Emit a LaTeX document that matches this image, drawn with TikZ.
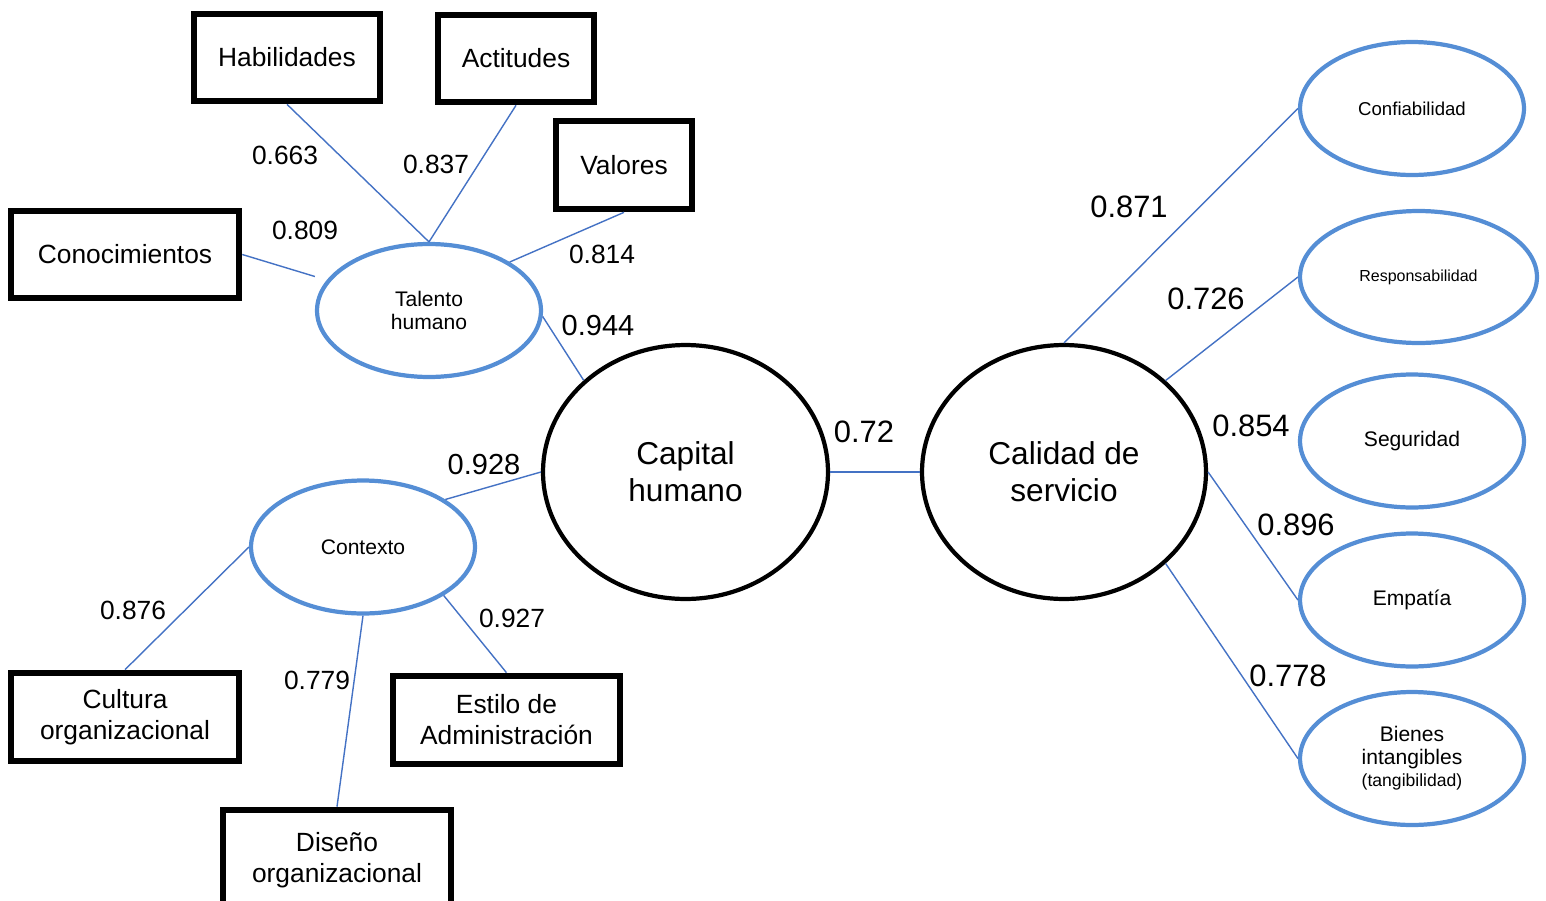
\documentclass[tikz,border=0pt]{standalone}
\usepackage{fontspec}
\setmainfont{Liberation Sans}
\usetikzlibrary{shapes.geometric}
\definecolor{ellblue}{RGB}{85,142,213}
\definecolor{lineblue}{RGB}{68,114,196}
\tikzset{
  box/.style={draw=black, line width=3.8pt, rectangle, inner sep=0pt, align=center,
    font=\fontsize{15pt}{17.6pt}\selectfont},
  sub/.style={draw=ellblue, line width=2.4pt, ellipse, inner sep=0pt, align=center,
    minimum width=4.48cm, minimum height=2.66cm, font=\fontsize{12pt}{13pt}\selectfont},
  big/.style={draw=black, line width=2.4pt, ellipse, inner sep=0pt, align=center,
    minimum width=5.7cm, minimum height=5.08cm, font=\fontsize{18pt}{21pt}\selectfont},
  conn/.style={draw=lineblue, line width=0.8pt},
  lab/.style={inner sep=0pt, font=\fontsize{15pt}{17pt}\selectfont},
  labm/.style={inner sep=0pt, font=\fontsize{16.5pt}{18pt}\selectfont},
  labb/.style={inner sep=0pt, font=\fontsize{17.6pt}{19pt}\selectfont},
}
\begin{document}
\begin{tikzpicture}[x=0.02cm, y=-0.02cm]
\useasboundingbox (0,0) rectangle (1546,900);
% boxes
\node[box, minimum width=3.72cm, minimum height=1.74cm] (hab) at (287,57.5) {Habilidades};
\node[box, minimum width=3.12cm, minimum height=1.74cm] (act) at (516,58.5) {Actitudes};
\node[box, minimum width=2.72cm, minimum height=1.76cm] (val) at (624,165) {Valores};
\node[box, minimum width=4.56cm, minimum height=1.74cm] (con) at (125,254.5) {Conocimientos};
\node[box, minimum width=4.56cm, minimum height=1.76cm] (cul) at (125,717) {Cultura\\organizacional};
\node[box, minimum width=4.54cm, minimum height=1.76cm] (est) at (506.5,720) {Estilo de\\Administración};
\node[box, minimum width=4.56cm, minimum height=2.0cm] (dis) at (337,860) {Diseño\\organizacional};
% latent sub-constructs
\node[sub] (tal) at (429,310.5) {Talento\\humano};
\node[sub] (ctx) at (363,547) {Contexto};
\node[sub, font=\fontsize{10.6pt}{12pt}\selectfont] (conf) at (1412,108.5) {Confiabilidad};
\node[sub, minimum width=4.74cm, minimum height=2.64cm, font=\fontsize{9.1pt}{11pt}\selectfont] (resp) at (1418.5,277) {Responsabilidad};
\node[sub] (seg) at (1412,441) {Seguridad};
\node[sub] (emp) at (1412,600) {Empatía};
\node[sub, font=\fontsize{12pt}{12.8pt}\selectfont] (bien) at (1412,758.5) {Bienes\\intangibles\\{\fontsize{10pt}{12pt}\selectfont(tangibilidad)}};
% main constructs
\node[big] (cap) at (685.5,472) {Capital\\humano};
\node[big, minimum width=5.68cm] (cal) at (1064,472) {Calidad de\\servicio};
% connectors
\draw[conn] (hab.south) -- (tal.north);
\draw[conn] (act.south) -- (tal.north);
\draw[conn] (val.south) -- (tal.31);
\draw[conn] (con.east) -- ([yshift=0.68cm]tal.west);
\draw[conn] (tal.357) -- (cap.138);
\draw[conn] (cap.west) -- (ctx.30);
\draw[conn] (ctx.west) -- (cul.north);
\draw[conn] (ctx.south) -- (dis.north);
\draw[conn] (ctx.-31) -- (est.north);
\draw[conn] (cap.east) -- (cal.west);
\draw[conn] (cal.north) -- (conf.west);
\draw[conn] (cal.42) -- (resp.west);
\draw[conn] (cal.east) -- (emp.west);
\draw[conn] (cal.-42) -- (bien.west);
% labels
\node[lab] (l1) at (285,155) {0.663};
\node[lab] (l2) at (436,164) {0.837};
\node[lab] (l3) at (305,230) {0.809};
\node[lab] (l4) at (602,254) {0.814};
\node[labm] (l5) at (598,326) {0.944};
\node[labm] (l6) at (484,465) {0.928};
\node[lab] (l7) at (133,610) {0.876};
\node[lab] (l8) at (512,618) {0.927};
\node[lab] (l9) at (317,680) {0.779};
\node[labb] (l10) at (864,432) {0.72};
\node[labb] (l11) at (1129,207) {0.871};
\node[labb] (l12) at (1206,299) {0.726};
\node[labb] (l13) at (1251,426) {0.854};
\node[labb] (l14) at (1296,525) {0.896};
\node[labb] (l15) at (1288,676) {0.778};
\end{tikzpicture}
\end{document}
